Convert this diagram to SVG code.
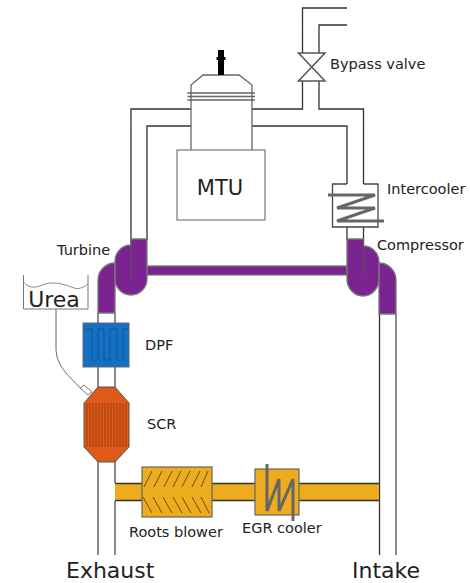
<svg xmlns="http://www.w3.org/2000/svg" width="470" height="583" viewBox="0 0 470 583">
<style>
text{font-family:"DejaVu Sans",Verdana,sans-serif;fill:#222}
.l{font-size:14.500px}
.p{fill:none;stroke:#666;stroke-width:1.500}
.d{fill:none;stroke:#333;stroke-width:1.300}
.purple{fill:#7b2491;stroke:#777;stroke-width:1.300}
.coil{fill:none;stroke:#666;stroke-width:3}
.hatch{fill:none;stroke:#6b4d10;stroke-width:1}
</style>
<rect width="470" height="583" fill="#fff"/>
<g id="connectors">
<path class="d" d="M347 8H302.500V53M347 25H319V53M302.500 81V109H252M319 81V109H363.500V184M131 240V109H191M147 240V126H191M252 126H347V184"/>
<path class="p" d="M98 313V555M115 313V483M115 501V555M396 314V555"/>
<path class="d" d="M379.500 314V555M347 227V240M363.500 227V240"/>
<path d="M56 309V348C56 368 72 378 82 390" fill="none" stroke="#666" stroke-width="1"/>
</g>
<g id="shaft"><rect class="purple" x="147" y="266" width="200" height="9"/></g>
<g id="egr-pipe">
<rect x="115" y="483.500" width="264" height="17" fill="#ecac1e"/>
<path class="d" d="M115 483.500H379M115 500.500H379"/>
</g>
<g id="engine">
<path d="M191 150V85L203 75H239L252 85V150" fill="#fff" stroke="#666" stroke-width="1.300"/>
<path d="M187.500 93H255M187.500 96.500H255M187.500 100H255" stroke="#666" stroke-width="1.300" fill="none"/>
<rect x="218" y="50" width="6" height="25" fill="#000"/>
<rect x="216.500" y="57" width="9" height="3" fill="#000"/>
<rect x="177" y="150" width="88" height="70" fill="#fff" stroke="#777" stroke-width="1.200"/>
<text x="220" y="195" text-anchor="middle" font-size="21">MTU</text>
</g>
<g id="bypass-valve">
<path d="M298.500 53H325L298.500 81H325Z" fill="#fff" stroke="#555" stroke-width="1.500"/>
<text class="l" x="330" y="69">Bypass valve</text>
</g>
<g id="intercooler">
<path d="M347 184H332.500V227H378V184H363.500" fill="#fff" stroke="#444" stroke-width="1.300"/>
<path class="coil" d="M328 195H375L337 208H375L337 221H384"/>
<text class="l" x="387" y="194">Intercooler</text>
</g>
<g id="turbine">
<path class="purple" d="M98 313V280A17 17 0 0 1 115 263V313H98Z"/>
<path class="purple" d="M131 239H147V279A16 16 0 0 1 115 279V261A16 16 0 0 1 131 245Z"/>
<path d="M131 240V280" stroke="#555" stroke-width="1.200" fill="none"/>
<text class="l" x="57" y="255">Turbine</text>
</g>
<g id="compressor">
<path class="purple" d="M379 314V263A17 17 0 0 1 396 280V314Z"/>
<path class="purple" d="M347 239H363.500V246A15.500 16 0 0 1 379 262V279A16 17 0 0 1 347 279Z"/>
<path d="M363.500 240V275" stroke="#555" stroke-width="1.200" fill="none"/>
<text class="l" x="377" y="250">Compressor</text>
</g>
<g id="urea">
<path d="M23.500 275V309H88V275" fill="#fff" stroke="#777" stroke-width="1"/>
<path d="M23.500 282C30 290 38 287 45 284C55 281 66 285 74 288C80 290 85 286 88 284" fill="none" stroke="#888" stroke-width="1"/>
<text x="54" y="307" text-anchor="middle" font-size="22">Urea</text>
</g>
<g id="dpf">
<rect x="83" y="323" width="46" height="44" fill="#1470c2" stroke="#666" stroke-width="1"/>
<path d="M86 329H92V360H98V329H104V360H110V329H117V360H123V329H128" fill="none" stroke="#0d559c" stroke-width="1"/>
<text class="l" x="145" y="350">DPF</text>
</g>
<g id="scr">
<path d="M98 387H115L129 403V447L115 462H98L84 447V403Z" fill="#df5a18" stroke="#555" stroke-width="1"/>
<path d="M87 403V447M90 403V447M93 403V447M96 403V447M99 403V447M102 403V447M105 403V447M108 403V447M111 403V447M114 403V447M117 403V447M120 403V447M123 403V447M126 403V447" stroke="#9e3d10" stroke-width="1" fill="none"/>
<path d="M80 388L84 385L92 392L88 395Z" fill="#fff" stroke="#777" stroke-width="1"/>
<text class="l" x="147" y="429">SCR</text>
</g>
<g id="roots-blower">
<rect x="142" y="467" width="70" height="50" fill="#ecac1e" stroke="#666" stroke-width="1.200"/>
<path class="hatch" d="M144 487L152 471M154 487L162 471M164 487L172 471M173 487L181 471M182 487L190 471M192 487L200 471M201 487L208 471M143 497L152 513M153 497L162 513M163 497L172 513M173 497L182 513M182 497L191 513M192 497L201 513M201 497L209 513"/>
<text class="l" x="129" y="537">Roots blower</text>
</g>
<g id="egr-cooler">
<rect x="255" y="469" width="44" height="46" fill="#ecac1e" stroke="#666" stroke-width="1.200"/>
<path class="coil" d="M267 464V511L279 479V511L293 479V521"/>
<text class="l" x="242" y="533">EGR cooler</text>
</g>
<g id="terminals">
<text x="66" y="577.500" font-size="22">Exhaust</text>
<text x="352" y="577.500" font-size="22">Intake</text>
</g>
</svg>
